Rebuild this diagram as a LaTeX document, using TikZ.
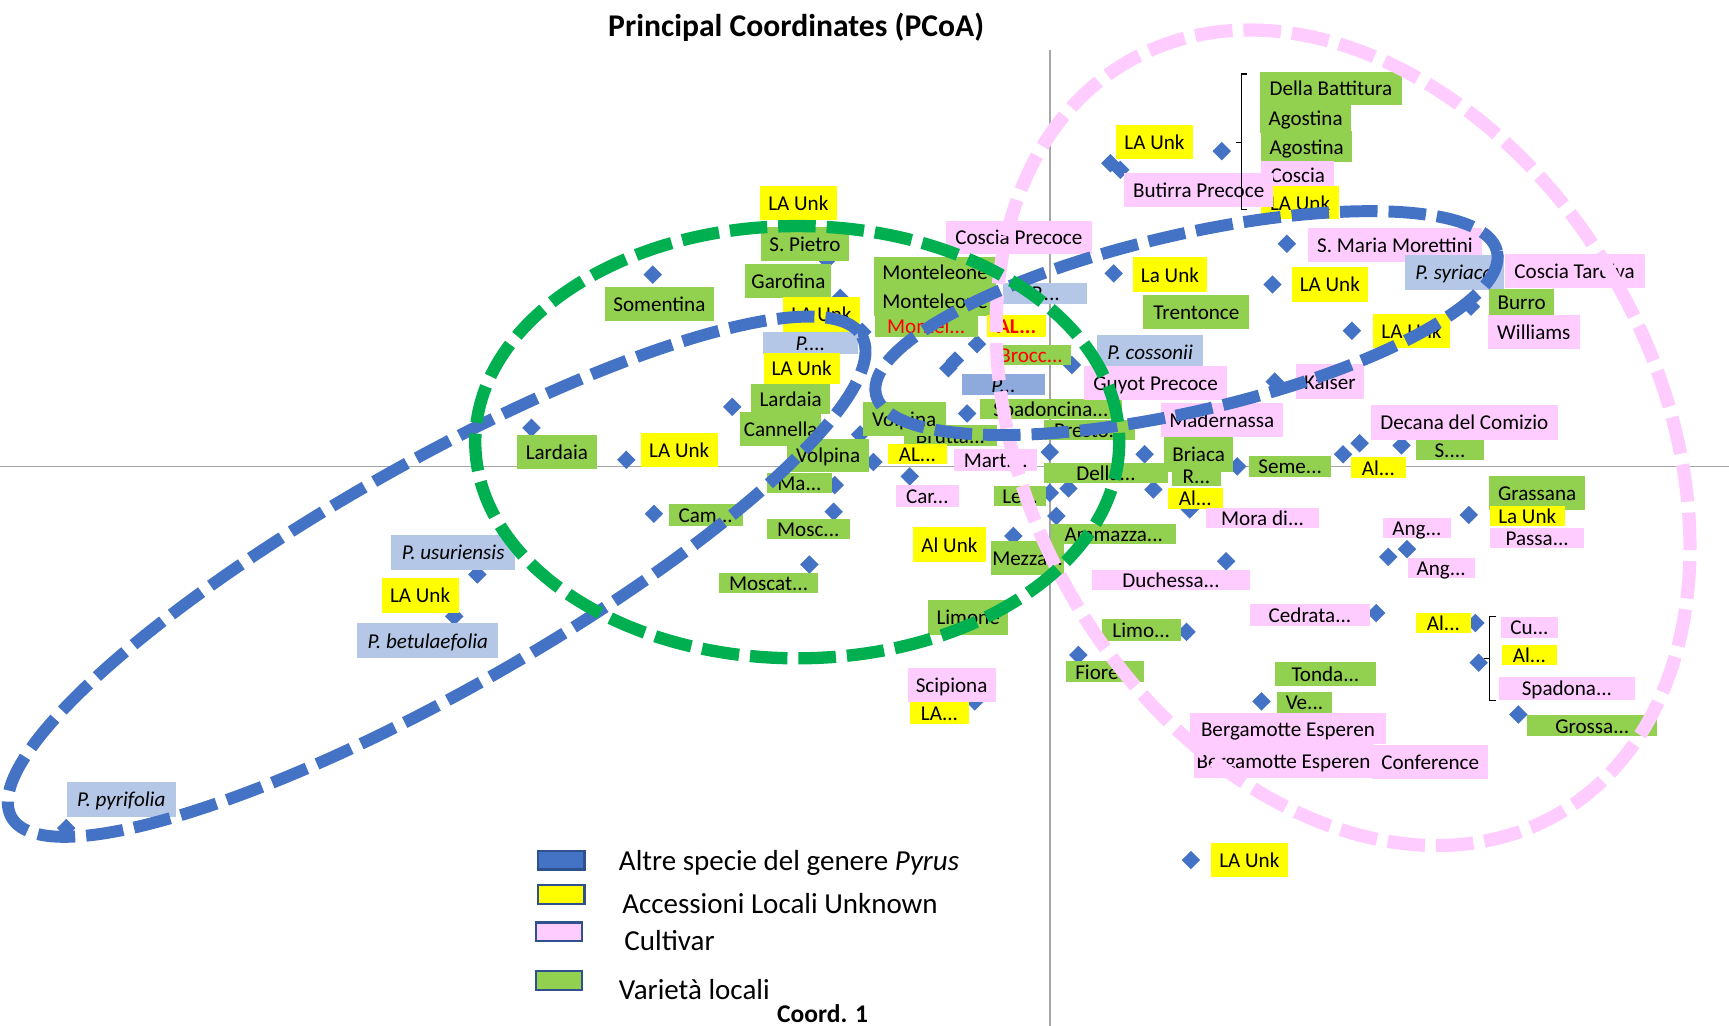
\documentclass[tikz,border=0pt]{standalone}
\usepackage{fontspec}
\setmainfont{Carlito}
\usetikzlibrary{shapes.geometric}
\definecolor{blupyrus}{HTML}{4472C4}
\definecolor{verdeelli}{HTML}{00B050}
\definecolor{rosacv}{HTML}{FFCCFF}
\definecolor{verdeloc}{HTML}{92D050}
\definecolor{giallounk}{HTML}{FFFF00}
\definecolor{azzurrosp}{HTML}{B4C7E7}
\definecolor{azzurroscuro}{HTML}{8EA9DB}
\definecolor{grigioasse}{HTML}{A6A6A6}
\definecolor{bordoleg}{HTML}{2F528F}
\newlength\upx
\setlength\upx{0.02205cm}

\begin{document}
\begin{tikzpicture}[
  x=0.02205cm, y=-0.02205cm,
  lab/.style={rectangle, inner sep=0pt,
    font=\fontsize{12pt}{14pt}\selectfont,
    text height=10pt, text depth=1.5pt},
  loc/.style={lab, fill=verdeloc},
  unk/.style={lab, fill=giallounk},
  cv/.style={lab, fill=rosacv},
  spec/.style={lab, fill=azzurrosp,
    font=\fontsize{12pt}{14pt}\selectfont\itshape},
  wh/.style 2 args={minimum width=#1\upx, minimum height=#2\upx},
  punto/.style={diamond, fill=blupyrus, inner sep=0pt, minimum size=17\upx},
  ellisse/.style={dash pattern=on 0.75cm off 0.22cm},
  asse/.style={draw=grigioasse, line width=0.9pt},
  legbox/.style={rectangle, draw=bordoleg, line width=1.3pt,
    minimum width=42\upx, minimum height=17\upx, inner sep=0pt},
  legtesto/.style={anchor=west, inner sep=0pt,
    font=\fontsize{16.5pt}{19pt}\selectfont}
]
  \useasboundingbox (0,0) rectangle (1568,930);

  % assi
  \draw[asse] (0,423) -- (1568,423);
  \draw[asse] (952,45) -- (952,930);

  % punti
  \foreach \mx/\my [count=\i] in {
      1108/137, 1007/148, 1016/154, 1167/221, 1010/248, 1154/258,
      1226/300, 1334/278, 592/249, 750/236, 762/270, 782/301,
      886/312, 866/327, 860/334, 972/331, 664/369, 482/388,
      568/417, 792/419, 780/394, 877/375, 952/410, 1038/412,
      1122/423, 825/432, 969/443, 1046/444, 952/447, 958/468,
      1079/462, 919/486, 1112/509, 757/440, 756/464, 734/512,
      593/466, 433/521, 412/559, 60/751, 1156/346, 1218/412,
      1233/402, 1271/404, 1332/467, 1276/498, 1259/505, 1248/556,
      1338/565, 1341/601, 1377/648, 1144/636, 1076/573, 978/594,
      884/636, 1080/780}
    \node[punto] (m\i) at (\mx,\my) {};

  % etichette in alto a destra
  \node[loc, wh={128}{30}] (dellab) at (1207,80) {Della Battitura};
  \node[loc, wh={83}{28}] (agost1) at (1184,107) {Agostina};
  \node[loc, wh={83}{28}] (agost2) at (1185,133) {Agostina};
  \node[cv, wh={66}{26}] (coscia) at (1177,159) {Coscia};
  \node[unk, wh={70}{30}] (launkA) at (1179,184) {LA Unk};
  \node[unk, wh={70}{31}] (launkB) at (1047,129) {LA Unk};
  \node[cv, wh={135}{31}] (butirra) at (1087,172) {Butirra Precoce};
  \node[cv, wh={132}{30}] (cosciap) at (924,215) {Coscia Precoce};
  \node[cv, wh={158}{31}] (smaria) at (1265,222) {S. Maria Morettini};
  \node[unk, wh={67}{31}] (launkC) at (1061,249) {La Unk};
  \node[unk, wh={69}{31}] (launkD) at (1206,258) {LA Unk};
  \node[loc, wh={96}{31}] (trentonce) at (1085,283) {Trentonce};
  \node[spec, wh={90}{32}] (syriaca) at (1319,247) {P. syriaca};
  \node[cv, wh={127}{31}] (cosciat) at (1428,246) {Coscia Tardiva};
  \node[loc, wh={59}{24}] (burro) at (1380,274) {Burro};
  \node[cv, wh={83}{31}] (williams) at (1391,301) {Williams};
  \node[unk, wh={70}{31}] (launkE) at (1280,300) {LA Unk};
  \node[cv, wh={62}{32}] (kaiser) at (1206,346) {Kaiser};
  \node[cv, wh={169}{32}] (decana) at (1328,383) {Decana del Comizio};
  \node[loc, wh={61}{18}] (sss) at (1315,408) {S....};
  \node[unk, wh={50}{18}] (alA) at (1250,424) {Al...};

  % etichette in alto a sinistra
  \node[unk, wh={70}{31}] (launkF) at (724,184) {LA Unk};
  \node[loc, wh={80}{31}] (spietro) at (730,221) {S. Pietro};
  \node[loc, wh={78}{31}] (garofina) at (715,255) {Garofina};
  \node[loc, wh={99}{31}] (somentina) at (598,276) {Somentina};
  \node[loc, wh={110}{28}] (montelA) at (848,247) {Monteleone};
  \node[loc, wh={110}{28}] (montelB) at (848,273) {Monteleone};
  \node[loc, wh={93}{20}, text=red] (montelC) at (840,296) {Montel...};
  \node[unk, wh={53}{20}, text=red] (alB) at (922,296) {\bfseries AL...};
  \node[spec, wh={76}{19}] (pA) at (948,266) {P....};
  \node[unk, wh={69}{32}] (launkG) at (745,285) {LA Unk};
  \node[spec, wh={87}{20}] (pB) at (735,311) {P....};
  \node[unk, wh={69}{28}] (launkH) at (727,334) {LA Unk};
  \node[loc, wh={72}{27}] (lardaiaA) at (717,362) {Lardaia};
  \node[loc, wh={73}{31}] (cannella) at (708,389) {Cannella};
  \node[loc, wh={75}{30}] (volpinaA) at (751,413) {Volpina};
  \node[loc, wh={59}{19}] (ma) at (725,438) {Ma...};
  \node[loc, wh={75}{18}] (mosc) at (733,480) {Mosc...};
  \node[loc, wh={90}{16}] (moscat) at (697,529) {Moscat...};
  \node[loc, wh={67}{20}] (cam) at (640,467) {Cam...};
  \node[unk, wh={70}{31}] (launkI) at (616,408) {LA Unk};
  \node[loc, wh={72}{31}] (lardaiaB) at (505,410) {Lardaia};

  % etichette al centro
  \node[loc, wh={85}{16}] (brutta) at (862,395) {Brutta...};
  \node[loc, wh={75}{30}] (volpinaB) at (820,380) {Volpina};
  \node[unk, wh={53}{18}] (alC) at (832,412) {AL...};
  \node[cv, wh={75}{20}] (mart) at (903,417) {Mart....};
  \node[cv, wh={57}{20}] (car) at (841,450) {Car...};
  \node[loc, wh={47}{18}] (le) at (925,450) {Le...};
  \node[unk, wh={66}{32}] (alunk) at (861,494) {Al Unk};
  \node[loc, wh={113}{16}] (ammazza) at (1010,484) {Ammazza...};
  \node[loc, wh={66}{31}] (mezza) at (932,506) {Mezza...};
  \node[loc, wh={73}{16}, text=red] (brocc) at (935,322) {Brocc...};
  \node[lab, fill=azzurroscuro, wh={75}{19},
        font=\fontsize{12pt}{14pt}\selectfont\itshape] (pC) at (910,349) {P...};
  \node[loc, wh={129}{18}] (spadonc) at (953,371) {Spadoncina...};
  \node[loc, wh={83}{18}] (presto) at (988,390) {Presto...};
  \node[loc, wh={113}{16}] (della) at (1003,429) {Della...};
  \node[spec, wh={96}{31}] (cossonii) at (1043,319) {P. cossonii};
  \node[cv, wh={130}{31}] (guyot) at (1048,347) {Guyot Precoce};
  \node[cv, wh={111}{31}] (madern) at (1108,381) {Madernassa};
  \node[loc, wh={63}{32}] (briaca) at (1087,412) {Briaca};
  \node[loc, wh={45}{16}] (rr) at (1085,432) {R...};
  \node[unk, wh={50}{16}] (alD) at (1084,452) {Al...};
  \node[cv, wh={102}{17}] (mora) at (1145,470) {Mora di...};
  \node[loc, wh={74}{19}] (seme) at (1170,423) {Seme...};
  \node[cv, wh={143}{16}] (duchessa) at (1062,526) {Duchessa...};

  % etichette in basso a destra
  \node[loc, wh={87}{31}] (grassana) at (1394,447) {Grassana};
  \node[unk, wh={68}{16}] (launkJ) at (1385,468) {La Unk};
  \node[cv, wh={85}{16}] (passa) at (1394,488) {Passa...};
  \node[cv, wh={61}{18}] (angA) at (1285,479) {Ang...};
  \node[cv, wh={61}{16}] (angB) at (1307,515) {Ang...};
  \node[cv, wh={109}{20}] (cedrata) at (1188,558) {Cedrata...};
  \node[unk, wh={50}{18}] (alE) at (1309,565) {Al...};
  \node[cv, wh={51}{19}] (cu) at (1387,569) {Cu...};
  \node[unk, wh={50}{16}] (alF) at (1387,594) {Al...};
  \node[cv, wh={123}{21}] (spadona) at (1421,624) {Spadona...};
  \node[loc, wh={118}{16}] (grossa) at (1444,658) {Grossa...};
  \node[loc, wh={91}{22}] (tonda) at (1202,611) {Tonda...};
  \node[loc, wh={50}{17}] (ve) at (1183,637) {Ve...};
  \node[cv, wh={177}{28}] (bergA) at (1168,661) {Bergamotte Esperen};
  \node[cv, wh={163}{31}] (bergB) at (1164,690) {Bergamotte Esperen};
  \node[cv, wh={105}{31}] (conf) at (1297,691) {Conference};
  \node[loc, wh={72}{20}] (limo) at (1035,571) {Limo...};
  \node[loc, wh={71}{16}] (fiore) at (1002,609) {Fiore...};
  \node[loc, wh={73}{32}] (limone) at (878,560) {Limone};
  \node[cv, wh={80}{31}] (scipiona) at (863,621) {Scipiona};
  \node[unk, wh={53}{20}] (laA) at (852,647) {LA...};
  \node[unk, wh={70}{31}] (launkK) at (1133,780) {LA Unk};

  % altre specie a sinistra
  \node[spec, wh={112}{32}] (usur) at (411,501) {P. usuriensis};
  \node[unk, wh={70}{32}] (launkL) at (381,540) {LA Unk};
  \node[spec, wh={128}{32}] (betul) at (388,581) {P. betulaefolia};
  \node[spec, wh={99}{32}] (pyrif) at (110,725) {P. pyrifolia};

  % parentesi
  \coordinate (grA) at (1121,129);
  \coordinate (grB) at (1346,597);
  \draw[line width=0.8pt] (1131,67) -- (1126,67) -- (1126,190) -- (1131,190)
    (1126,129) -- (grA);
  \draw[line width=0.8pt] (1357,559) -- (1351,559) -- (1351,635) -- (1357,635)
    (1351,597) -- (grB);

  % ellissi
  \draw[ellisse, draw=rosacv, line width=7.5pt, rotate around={29.5:(1218,397)}]
    (1218,397) ellipse [x radius=285, y radius=393];
  \draw[ellisse, draw=blupyrus, line width=6.8pt, rotate around={29.5:(396,523)}]
    (396,523) ellipse [x radius=443, y radius=103];
  \draw[ellisse, draw=blupyrus, line width=6.8pt, rotate around={13:(1076,293)}]
    (1076,293) ellipse [x radius=289, y radius=80];
  \draw[ellisse, draw=verdeelli, line width=7pt]
    (723,401) ellipse [x radius=292, y radius=196];

  % legenda
  \node[legbox, fill=blupyrus] (leg1) at (509,780) {};
  \node[legtesto] (legt1) at (561,783) {Altre specie del genere \textit{Pyrus}};
  \node[legbox, fill=giallounk] (leg2) at (509,811) {};
  \node[legtesto] (legt2) at (564,819) {Accessioni Locali Unknown};
  \node[legbox, fill=rosacv] (leg3) at (507,845) {};
  \node[legtesto] (legt3) at (566,853) {Cultivar};
  \node[legbox, fill=verdeloc] (leg4) at (507,889) {};
  \node[legtesto] (legt4) at (561,897) {Varietà locali};

  \node[font=\fontsize{18pt}{21pt}\selectfont\bfseries] (titolo) at (722,25)
    {Principal Coordinates (PCoA)};
  \node[font=\fontsize{14.5pt}{17pt}\selectfont\bfseries] (coord1) at (746,919)
    {Coord. 1};
\end{tikzpicture}
\end{document}
